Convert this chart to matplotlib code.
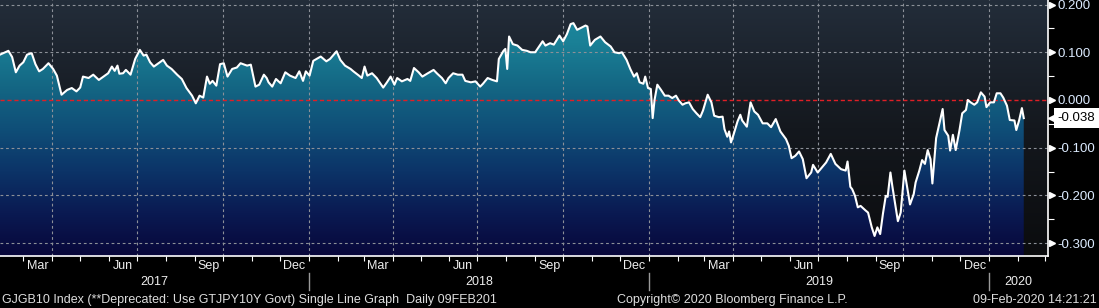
import numpy as np
import pandas as pd
import matplotlib
matplotlib.use('Agg')
import matplotlib.pyplot as plt
import matplotlib.dates as mdates
import matplotlib.transforms as mtransforms
from matplotlib.colors import LinearSegmentedColormap
from matplotlib.ticker import FixedLocator, FormatStrFormatter

# ---------------- data ----------------
start_date = '2017-02-04'
end_view = '2020-03-04'
day_offsets = [
    0, 9, 13, 17, 21, 25, 29, 34, 38, 42, 46, 52, 57, 61, 66, 72, 77, 82, 86, 89,
    95, 100, 106, 111, 116, 120, 123, 126, 128, 132, 135, 140, 145, 150, 154, 157, 161, 165, 170, 175,
    179, 184, 190, 195, 200, 206, 210, 214, 218, 222, 225, 228, 232, 236, 240, 244, 249, 254, 258, 265,
    269, 274, 278, 283, 286, 288, 292, 296, 301, 306, 311, 317, 321, 325, 328, 332, 336, 344, 350, 354,
    361, 365, 370, 376, 379, 385, 388, 391, 394, 399, 404, 411, 415, 419, 423, 426, 431, 437, 440, 444,
    449, 453, 458, 465, 469, 474, 478, 481, 486, 491, 496, 499, 505, 510, 515, 518, 523, 528, 533, 535,
    540, 542, 544, 546, 550, 555, 560, 565, 569, 574, 582, 585, 590, 594, 600, 604, 608, 612, 615, 619,
    623, 628, 630, 633, 638, 644, 649, 655, 659, 664, 667, 672, 676, 680, 683, 686, 690, 692, 695, 698,
    700, 702, 705, 709, 713, 717, 721, 725, 728, 732, 735, 739, 743, 747, 751, 754, 759, 763, 766, 771,
    775, 777, 780, 782, 784, 787, 791, 794, 796, 801, 805, 809, 813, 818, 823, 827, 832, 837, 843, 846,
    849, 853, 857, 861, 865, 870, 872, 877, 880, 886, 891, 896, 902, 907, 909, 912, 914, 917, 920, 923,
    928, 931, 935, 938, 941, 944, 947, 950, 952, 955, 957, 961, 963, 966, 970, 973, 976, 980, 982, 986,
    989, 992, 995, 998, 1000, 1004, 1007, 1011, 1013, 1017, 1019, 1022, 1025, 1029, 1032, 1036, 1038, 1041, 1045, 1048,
    1052, 1056, 1058, 1062, 1066, 1069, 1073, 1076, 1080, 1083, 1088, 1090, 1093, 1096, 1098,
]
yields = [
    0.095, 0.103, 0.090, 0.058, 0.072, 0.079, 0.095, 0.098, 0.075, 0.060, 0.065, 0.077, 0.065, 0.051, 0.011, 0.021, 0.025, 0.018, 0.026, 0.049,
    0.046, 0.053, 0.042, 0.049, 0.056, 0.070, 0.061, 0.072, 0.055, 0.056, 0.063, 0.053, 0.086, 0.105, 0.093, 0.095, 0.079, 0.070, 0.077, 0.084,
    0.072, 0.065, 0.053, 0.044, 0.025, 0.009, -0.007, 0.009, 0.005, 0.049, 0.034, 0.040, 0.030, 0.075, 0.077, 0.049, 0.065, 0.068, 0.077, 0.072,
    0.074, 0.028, 0.032, 0.053, 0.046, 0.037, 0.028, 0.044, 0.035, 0.058, 0.051, 0.046, 0.060, 0.040, 0.060, 0.051, 0.082, 0.091, 0.081, 0.086,
    0.102, 0.084, 0.072, 0.065, 0.060, 0.051, 0.046, 0.070, 0.051, 0.056, 0.046, 0.026, 0.037, 0.049, 0.032, 0.046, 0.039, 0.044, 0.040, 0.067,
    0.058, 0.049, 0.055, 0.063, 0.055, 0.046, 0.035, 0.046, 0.056, 0.053, 0.053, 0.040, 0.037, 0.039, 0.028, 0.034, 0.046, 0.042, 0.039, 0.086,
    0.103, 0.107, 0.065, 0.133, 0.117, 0.114, 0.105, 0.103, 0.100, 0.100, 0.123, 0.114, 0.119, 0.116, 0.135, 0.123, 0.138, 0.159, 0.161, 0.147,
    0.151, 0.156, 0.154, 0.114, 0.126, 0.133, 0.121, 0.112, 0.100, 0.098, 0.100, 0.084, 0.065, 0.049, 0.056, 0.037, 0.034, 0.049, 0.025, 0.023,
    -0.038, 0.000, 0.032, 0.021, 0.009, 0.009, 0.004, 0.009, -0.001, -0.010, -0.007, -0.005, -0.019, -0.028, -0.036, -0.022, 0.011, -0.005, -0.033, -0.036,
    -0.035, -0.061, -0.077, -0.066, -0.089, -0.071, -0.045, -0.031, -0.043, -0.056, -0.005, -0.024, -0.031, -0.049, -0.049, -0.057, -0.040, -0.066, -0.082, -0.096,
    -0.122, -0.117, -0.108, -0.124, -0.164, -0.152, -0.136, -0.152, -0.145, -0.131, -0.113, -0.134, -0.145, -0.148, -0.129, -0.182, -0.187, -0.201, -0.225, -0.222,
    -0.231, -0.236, -0.267, -0.285, -0.267, -0.281, -0.238, -0.201, -0.203, -0.152, -0.180, -0.229, -0.254, -0.236, -0.148, -0.183, -0.219, -0.197, -0.173, -0.148,
    -0.126, -0.134, -0.105, -0.124, -0.175, -0.080, -0.054, -0.019, -0.063, -0.075, -0.106, -0.073, -0.105, -0.064, -0.028, -0.021, 0.000, -0.005, -0.010, -0.005,
    0.016, 0.007, -0.015, -0.005, -0.005, 0.014, 0.014, 0.005, -0.012, -0.042, -0.043, -0.063, -0.043, -0.017, -0.038,
]
month_names = {3: 'Mar', 6: 'Jun', 9: 'Sep', 12: 'Dec'}
y_ticks = [-0.3, -0.2, -0.1, 0.0, 0.1, 0.2]
y_minor = [-0.25, -0.15, -0.05, 0.05, 0.15]
y_limits = (-0.327, 0.2095)
last_value = -0.038
footer_left = 'GJGB10 Index (**Deprecated: Use GTJPY10Y Govt) Single Line Graph  Daily 09FEB201'
footer_mid = 'Copyright\u00a9 2020 Bloomberg Finance L.P.'
footer_right = '09-Feb-2020 14:21:21'

# ---------------- style ----------------
plt.rcParams['font.family'] = ['Liberation Sans', 'DejaVu Sans']
plt.rcParams['axes.unicode_minus'] = False
PX = 1 / 100.0  # inches per pixel

dates = np.datetime64(start_date) + np.array(day_offsets).astype('timedelta64[D]')
xd = mdates.date2num(dates)
x0 = mdates.date2num(np.datetime64(start_date))
x1 = mdates.date2num(np.datetime64(end_view))
y = np.array(yields)

fig = plt.figure(figsize=(10.99, 3.08), dpi=100, facecolor='black')
ax = fig.add_axes([0, 52 / 308, 1048 / 1099, 256 / 308])
ax.set_facecolor('black')

# background gradient
bg_cmap = LinearSegmentedColormap.from_list('bg', ['#0b0c0e', '#14181e', '#232d3a'])
grad = np.linspace(0, 1, 256).reshape(-1, 1)
ax.imshow(grad, extent=[0, 1, 0, 1], transform=ax.transAxes, origin='lower',
          aspect='auto', cmap=bg_cmap, zorder=0, interpolation='bilinear')

# fill gradient clipped to area under line
fill_cmap = LinearSegmentedColormap.from_list(
    'fill', ['#08073a', '#0a1a52', '#0c3468', '#0f4f78', '#146784', '#1a8096', '#1e8ca2'])
poly = ax.fill_between(xd, y, y_limits[0], facecolor='none', edgecolor='none', zorder=1)
im = ax.imshow(grad, extent=[x0, x1, y_limits[0], y_limits[1]], origin='lower',
               aspect='auto', cmap=fill_cmap, zorder=1, interpolation='bilinear')
im.set_clip_path(poly.get_paths()[0], transform=ax.transData)

# grid
for yt in y_ticks:
    if yt == 0:
        ax.axhline(yt, color='#e01f26', lw=1.0, ls=(0, (3, 2)), zorder=2.5)
    else:
        ax.axhline(yt, color='#8c9098', lw=0.8, ls=(0, (2.5, 2.5)), zorder=2)
quarters = pd.date_range('2017-01-01', end_view, freq='QS')
for q in quarters:
    qn = mdates.date2num(q)
    if x0 < qn < x1:
        ax.axvline(qn, color='#8c9098', lw=0.8, ls=(0, (2.5, 2.5)), zorder=2)

# data line
ax.plot(xd, y, color='white', lw=1.5, zorder=3, solid_joinstyle='round')

ax.set_xlim(x0, x1)
ax.set_ylim(*y_limits)

# spines
for s in ['top', 'left']:
    ax.spines[s].set_visible(False)
for s in ['right', 'bottom']:
    ax.spines[s].set_color('white')
    ax.spines[s].set_linewidth(1.2)
    ax.spines[s].set_zorder(4)

# y axis on right
ax.yaxis.tick_right()
ax.set_yticks(y_ticks)
ax.yaxis.set_major_formatter(FormatStrFormatter('%.3f'))
ax.yaxis.set_minor_locator(FixedLocator(y_minor))
ax.tick_params(axis='y', which='major', length=0, pad=6.8, labelsize=9.5,
               labelcolor='#dcebff')
ax.tick_params(axis='y', which='minor', length=4, width=0.8, color='white', direction='out')
tri_tr = ax.get_yaxis_transform() + mtransforms.ScaledTranslation(3.5 * PX, 0, fig.dpi_scale_trans)
ax.plot([1.0] * len(y_ticks), y_ticks, linestyle='none', marker='>', ms=5,
        color='white', transform=tri_tr, clip_on=False, zorder=5)

# last value tag
tag_tr = ax.get_yaxis_transform() + mtransforms.ScaledTranslation(9.5 * PX, 0, fig.dpi_scale_trans)
ax.text(1.0, last_value, '%.3f' % last_value, transform=tag_tr, ha='left', va='center',
        fontsize=9.5, color='black', zorder=6, clip_on=False,
        bbox=dict(boxstyle='square,pad=0.28', fc='white', ec='none'))
arr_tr = ax.get_yaxis_transform() + mtransforms.ScaledTranslation(3.5 * PX, 0, fig.dpi_scale_trans)
ax.plot([1.0], [last_value], marker='<', ms=6, color='white', transform=arr_tr,
        clip_on=False, zorder=6, linestyle='none')

# x axis: month ticks
month_starts = pd.date_range('2017-01-01', '2020-04-01', freq='MS')
mnums = [mdates.date2num(m) for m in month_starts]
vis = [m for m in mnums if x0 < m <= x1]
ax.set_xticks(vis)
ax.set_xticklabels([])
ax.tick_params(axis='x', which='major', length=3.5, width=0.8, color='white', direction='out')

xtr = ax.get_xaxis_transform()
def off(px):
    return xtr + mtransforms.ScaledTranslation(0, -px * PX, fig.dpi_scale_trans)

for i in range(len(month_starts) - 1):
    m = month_starts[i]
    if m.month in month_names:
        a, b = mnums[i], mnums[i + 1]
        if a >= x0 and b <= x1:
            ax.text((a + b) / 2, 0, month_names[m.month], transform=off(10), ha='center',
                    va='center', fontsize=9, color='#eeeeee', clip_on=False)

ax_h_px = 256.0
for yr in range(2017, 2021):
    a = max(mdates.date2num(pd.Timestamp(f'{yr}-01-01')), x0)
    b = min(mdates.date2num(pd.Timestamp(f'{yr + 1}-01-01')), x1)
    ax.text((a + b) / 2, 0, str(yr), transform=off(26), ha='center', va='center',
            fontsize=9, color='#eeeeee', clip_on=False)
    if yr > 2017:
        jn = mdates.date2num(pd.Timestamp(f'{yr}-01-01'))
        ax.add_line(plt.Line2D([jn, jn], [-17 / ax_h_px, -34 / ax_h_px], color='#9a9a9a',
                               lw=1.0, clip_on=False, transform=xtr))

# footer
fig.text(2 / 1099, 8 / 308, footer_left, ha='left', va='center', fontsize=9, color='#dddddd')
fig.text(617 / 1099, 8 / 308, footer_mid, ha='left', va='center', fontsize=9, color='#dddddd')
fig.text(1097 / 1099, 8 / 308, footer_right, ha='right', va='center', fontsize=9, color='#dddddd')

fig.savefig('out.png', dpi=100, facecolor='black')
